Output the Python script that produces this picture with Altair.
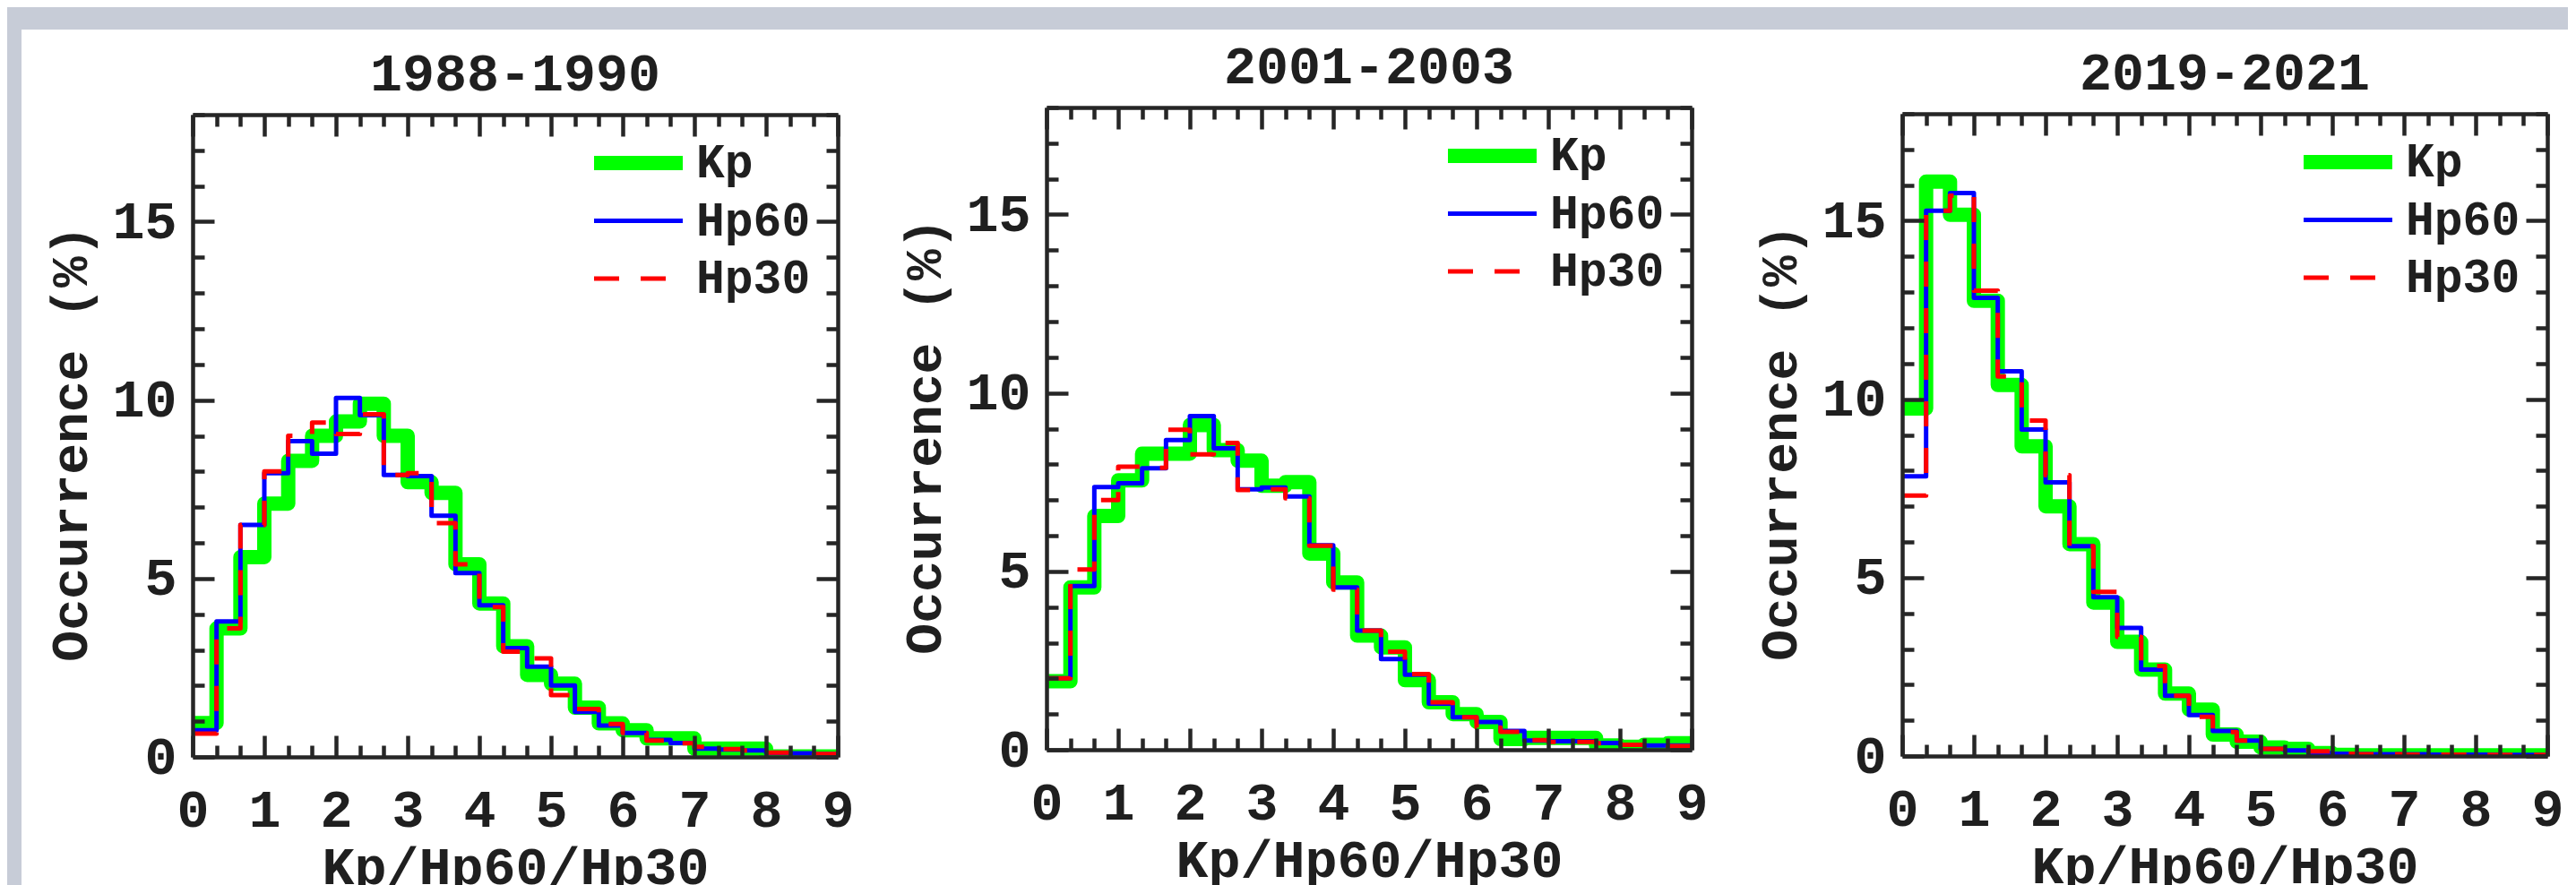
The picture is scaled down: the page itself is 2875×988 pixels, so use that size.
import altair as alt
import pandas as pd

FONT = "Liberation Mono"
TXT = "#1f1f1f"
AX = "#262626"
PAGE_BG = "#c7ccd7"

SERIES = ["Kp", "Hp60", "Hp30"]
COLORS = ["#00ff00", "#0000ff", "#ff0000"]
DASHES = [[1, 0], [1, 0], [28, 24]]
WIDTHS = [16, 5, 5]

# Kp / Hp level edges: 0, 1/3, 2/3, ... 9
BIN_EDGES = [k / 3 for k in range(28)]
X_LABELS = list(range(10))
Y_LABELS = [0, 5, 10, 15]
Y_TICKS = list(range(19))

TITLES = ["1988-1990", "2001-2003", "2019-2021"]

KP_1988 = [0.95, 3.6, 5.6, 7.1, 8.3, 9.0, 9.4, 9.9, 9.0, 7.7, 7.4, 5.4, 4.3, 3.1,
           2.3, 2.05, 1.38, 0.94, 0.75, 0.52, 0.52, 0.23, 0.23, 0.23, 0.01, 0.01, 0.01]
HP60_1988 = [0.75, 3.8, 6.5, 7.95, 8.85, 8.5, 10.06, 9.58, 7.9, 7.87, 6.76, 5.15, 4.25, 3.05,
             2.53, 2.0, 1.26, 0.88, 0.67, 0.48, 0.39, 0.23, 0.21, 0.18, 0.11, 0.1, 0.08]
HP30_1988 = [0.65, 3.6, 6.5, 8.0, 9.0, 9.37, 9.05, 9.6, 7.9, 7.95, 6.55, 5.4, 4.2, 2.95,
             2.76, 1.73, 1.34, 0.92, 0.67, 0.46, 0.38, 0.28, 0.22, 0.18, 0.12, 0.11, 0.08]

KP_2001 = [1.92, 4.55, 6.55, 7.55, 8.3, 8.3, 9.1, 8.4, 8.1, 7.4, 7.5, 5.5, 4.69, 3.2,
           2.87, 1.95, 1.33, 1.0, 0.78, 0.3, 0.33, 0.33, 0.33, 0.12, 0.08, 0.14, 0.18]
HP60_2001 = [2.0, 4.59, 7.36, 7.47, 7.89, 8.68, 9.35, 8.45, 7.3, 7.35, 7.1, 5.73, 4.55, 3.34,
             2.54, 2.1, 1.29, 0.91, 0.78, 0.53, 0.26, 0.24, 0.24, 0.19, 0.14, 0.12, 0.12]
HP30_2001 = [2.0, 5.05, 7.0, 7.93, 7.9, 8.97, 8.28, 8.6, 7.28, 7.3, 7.05, 5.72, 4.49, 3.34,
             2.75, 2.12, 1.33, 0.91, 0.62, 0.5, 0.27, 0.22, 0.22, 0.18, 0.14, 0.12, 0.1]

KP_2019 = [9.74, 16.1, 15.17, 12.76, 10.4, 8.68, 7.0, 5.94, 4.3, 3.2, 2.42, 1.75, 1.3, 0.6,
           0.4, 0.24, 0.2, 0.08, 0.03, 0.02, 0.02, 0.02, 0.02, 0.02, 0.02, 0.02, 0.02]
HP60_2019 = [7.84, 15.28, 15.78, 12.84, 10.78, 9.15, 7.67, 5.88, 4.45, 3.59, 2.42, 1.69, 1.15, 0.7,
             0.43, 0.2, 0.16, 0.08, 0.06, 0.05, 0.05, 0.05, 0.04, 0.04, 0.04, 0.03, 0.03]
HP30_2019 = [7.3, 15.28, 15.7, 13.04, 10.64, 9.4, 7.87, 5.88, 4.6, 3.34, 2.52, 1.69, 1.1, 0.67,
             0.43, 0.2, 0.2, 0.13, 0.06, 0.05, 0.05, 0.04, 0.04, 0.04, 0.03, 0.03, 0.03]

PANEL_DATA = [
    (KP_1988, HP60_1988, HP30_1988),
    (KP_2001, HP60_2001, HP30_2001),
    (KP_2019, HP60_2019, HP30_2019),
]

# ---- layout (integer page pixels) ----
W, H = 720, 717
PLOT_LEFT = [215, 1168, 2123]
PLOT_TOP = [128, 120, 127]
BASE_TOP = min(PLOT_TOP) - 1
# white sheet of the original figure, split in one slab per panel
SHEET_X = [24, 955, 1910, 2866]
SHEET_TOP, SHEET_BOTTOM = 33, 1000


def make_df(series_vals):
    rows = []
    for s, vals in zip(SERIES, series_vals):
        for k, v in enumerate(vals):
            rows.append({"series": s, "x": BIN_EDGES[k], "y": v})
        rows.append({"series": s, "x": BIN_EDGES[len(vals)], "y": vals[-1]})
    return pd.DataFrame(rows)


X_MAJOR = "abs(datum.value - round(datum.value)) < 0.001"
Y_MAJOR = "datum.value % 5 === 0"


def axis(**kw):
    base = dict(grid=False, zindex=1, domainColor=AX, domainWidth=4.5, tickColor=AX, tickWidth=4.5,
                labelFont=FONT, labelFontWeight="bold", labelColor=TXT,
                titleFont=FONT, titleFontWeight="bold", titleColor=TXT)
    base.update(kw)
    return alt.Axis(**base)


def xcond():
    return {"condition": {"test": X_MAJOR, "value": 24}, "value": 13}


def ycond():
    return {"condition": {"test": Y_MAJOR, "value": 24}, "value": 13}


COLOR_SCALE = alt.Scale(domain=SERIES, range=COLORS)
DASH_SCALE = alt.Scale(domain=SERIES, range=DASHES)
WIDTH_SCALE = alt.Scale(type="ordinal", domain=SERIES, range=WIDTHS)
X_SCALE = alt.Scale(domain=[0, 9], nice=False, zero=False)
Y_SCALE = alt.Scale(domain=[0, 18], nice=False, zero=False)


def legend():
    return alt.Legend(orient="none", legendX=440, legendY=27, title=None, direction="vertical",
                      symbolType="stroke", symbolSize=9801, clipHeight=54, rowPadding=10.5,
                      padding=0, labelFont=FONT, labelFontSize=53, labelFontWeight="bold",
                      labelColor=TXT, labelOffset=7)


def panel(i):
    df = make_df(PANEL_DATA[i])

    x_axes = [
        axis(orient="bottom", values=X_LABELS, ticks=False, tickSize=0, labelFontSize=60,
             labelPadding=30, title="Kp/Hp60/Hp30", titleFontSize=60, titleY=123,
             titleBaseline="middle", format="d", labelFlush=False, labelOverlap=False),
        axis(orient="top", offset=-H, values=BIN_EDGES, labels=False, domain=False,
             title=None, tickSize=xcond()),
        axis(orient="bottom", offset=-H, values=BIN_EDGES, labels=False, domain=True,
             title=None, tickSize=xcond()),
    ]
    y_axes = [
        axis(orient="left", values=Y_LABELS, ticks=False, tickSize=0, labelFontSize=60,
             labelPadding=18, title="Occurrence (%)", titleFontSize=58, titleX=-136,
             titleY=H / 2 + 8, titleBaseline="middle", labelOverlap=False),
        axis(orient="right", offset=-W, values=Y_TICKS, labels=False, domain=False,
             title=None, tickSize=ycond()),
        axis(orient="left", offset=-W, values=Y_TICKS, labels=False, domain=True,
             title=None, tickSize=ycond()),
    ]

    layers = []
    for s_i, s in enumerate(SERIES):
        layers.append(
            alt.Chart(df).transform_filter(alt.datum.series == s)
            .mark_line(interpolate="step-after", strokeJoin="round", clip=True)
            .encode(
                x=alt.X("x:Q", scale=X_SCALE, axis=x_axes[s_i]),
                y=alt.Y("y:Q", scale=Y_SCALE, axis=y_axes[s_i]),
                color=alt.Color("series:N", scale=COLOR_SCALE, legend=legend()),
                strokeDash=alt.StrokeDash("series:N", scale=DASH_SCALE, legend=legend()),
                strokeWidth=alt.StrokeWidth("series:N", scale=WIDTH_SCALE, legend=legend()),
            )
        )

    # panel title, centred over the plot frame
    layers.append(
        alt.Chart(pd.DataFrame({"title": [TITLES[i]]}))
        .mark_text(font=FONT, fontSize=60, fontWeight="bold", color=TXT,
                   align="center", baseline="alphabetic")
        .encode(x=alt.value(W / 2), y=alt.value(-27), text="title:N")
    )

    plot = alt.layer(*layers).resolve_axis(x="independent", y="independent").properties(
        width=W, height=H)

    # white sheet slab behind this panel; its height also sets the panel's vertical offset
    left = PLOT_LEFT[i]
    sheet = alt.Chart(pd.DataFrame({"a": [0]})).mark_rect(color="white").encode(
        x=alt.value(SHEET_X[i] - left), x2=alt.value(SHEET_X[i + 1] - left),
        y=alt.value(SHEET_TOP - BASE_TOP), y2=alt.value(SHEET_BOTTOM - BASE_TOP),
    ).properties(width=W, height=PLOT_TOP[i] - BASE_TOP)

    return alt.vconcat(sheet, plot, spacing=0, bounds="flush").resolve_scale(
        color="independent", strokeDash="independent", strokeWidth="independent")


chart = (
    alt.hconcat(*[panel(i) for i in range(3)], spacing=0, bounds="full")
    .resolve_scale(color="independent", strokeDash="independent", strokeWidth="independent")
    .properties(background=PAGE_BG, padding={"left": 16, "top": 25, "right": 0, "bottom": 0})
    .configure_view(stroke=None)
)

chart.save("out.html", embed_options={"renderer": "svg", "actions": False})
